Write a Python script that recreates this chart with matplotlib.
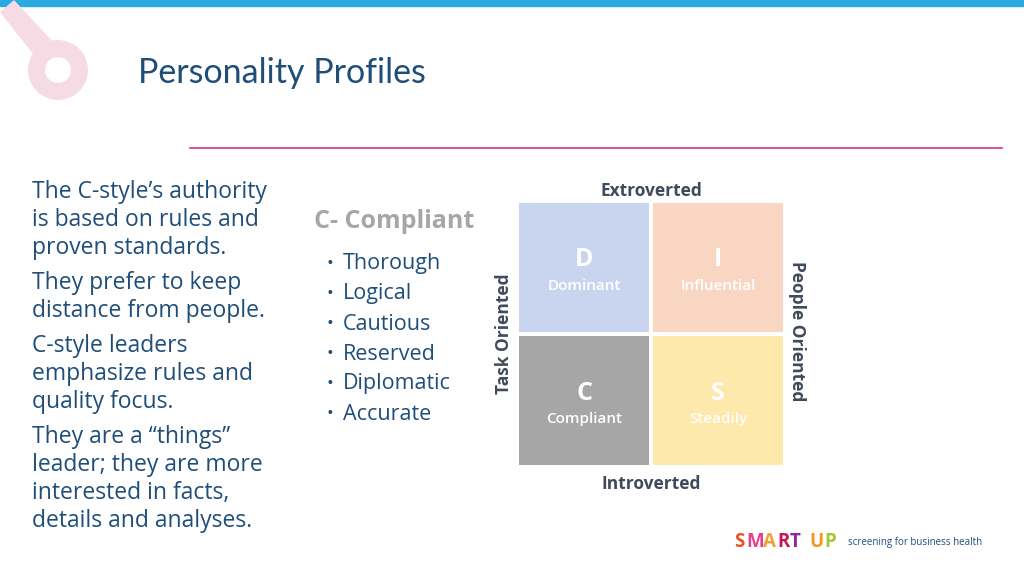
import matplotlib
matplotlib.use("Agg")
import matplotlib.pyplot as plt
from matplotlib.patches import Rectangle, Circle, Polygon

title = "Personality Profiles"
paragraphs = ["The C-style\u2019s authority\nis based on rules and\nproven standards.",
              "They prefer to keep\ndistance from people.",
              "C-style leaders\nemphasize rules and\nquality focus.",
              "They are a \u201cthings\u201d\nleader; they are more\ninterested in facts,\ndetails and analyses."]
heading = "C- Compliant"
bullets = ["Thorough", "Logical", "Cautious", "Reserved", "Diplomatic", "Accurate"]
letters = ["D", "I", "C", "S"]
names = ["Dominant", "Influential", "Compliant", "Steadily"]
cell_col = [0, 1, 0, 1]
cell_row = [0, 0, 1, 1]
colors = ["#c9d5ee", "#f8d6c2", "#a6a6a6", "#fde9ab"]
axis_labels = ["Extroverted", "Introverted", "Task Oriented", "People Oriented"]

plt.rcParams['font.family'] = ['Open Sans', 'DejaVu Sans']
fig = plt.figure(figsize=(10.24, 5.75), dpi=100)
ax = fig.add_axes([0, 0, 1, 1])
ax.set_xlim(0, 1024); ax.set_ylim(575, 0); ax.axis('off')

ax.add_patch(Rectangle((0, 0), 1024, 6, color="#29abe2"))
ax.add_patch(Polygon([(0, 12), (14, 0), (70, 60), (52, 78)], closed=True, color="#f6dbe5", lw=0))
ax.add_patch(Circle((58, 70), 30, color="#f6dbe5", lw=0))
ax.add_patch(Circle((58, 70), 13, color="white", lw=0))
ax.text(138, 73, title, fontsize=24.5, color="#1f4e79", va='center', family=['Lato', 'DejaVu Sans'])
ax.plot([190, 1002], [148, 148], color="#d63384", lw=1.2)

y = 192
for p in paragraphs:
    n = p.count("\n") + 1
    for k, line in enumerate(p.split("\n")):
        ax.text(32, y + k * 28, line, fontsize=16.5, color="#1f4e79", va='center')
    y += n * 28 + 7

ax.text(314, 222, heading, fontsize=18, color="#a6a6a6", fontweight='bold', va='center')
for i, b in enumerate(bullets):
    yy = 264 + i * 30
    ax.text(326, yy, "\u2022", fontsize=13, color="#1f4e79", va='center')
    ax.text(343, yy, b, fontsize=15.5, color="#1f4e79", va='center')

x0, y0, w, h, gap = 519, 203, 130, 129, 4
for L, nm, c, r, col in zip(letters, names, cell_col, cell_row, colors):
    x = x0 + c * (w + gap); yc = y0 + r * (h + gap)
    ax.add_patch(Rectangle((x, yc), w, h, color=col, lw=0))
    ax.text(x + w / 2, yc + 57, L, fontsize=18, color="white", fontweight='bold', ha='center', va='center')
    ax.text(x + w / 2, yc + 83, nm, fontsize=11, color="white", fontweight='semibold', ha='center', va='center')

lc = "#404a5a"
ax.text(651, 191, axis_labels[0], fontsize=12.5, color=lc, fontweight='bold', ha='center', va='center')
ax.text(651, 484, axis_labels[1], fontsize=12.5, color=lc, fontweight='bold', ha='center', va='center')
ax.text(504, 334, axis_labels[2], fontsize=12.5, color=lc, fontweight='bold', ha='center', va='center', rotation=90)
ax.text(797, 331, axis_labels[3], fontsize=12.5, color=lc, fontweight='bold', ha='center', va='center', rotation=270)

logo = ["S", "M", "A", "R", "T", "U", "P"]
lcols = ["#e8562a", "#e83e8c", "#f2a12c", "#c2185b", "#8e24aa", "#f7941d", "#a4c639"]
lx = [734, 746, 763, 777, 790, 809, 824]
for ch, cl, xx in zip(logo, lcols, lx):
    ax.text(xx, 542, ch, fontsize=13.5, color=cl, fontweight='bold', va='center')
ax.text(848, 542, "screening for business health", fontsize=7, color="#1f4e79", va='center')

fig.savefig("out.png", dpi=100)
